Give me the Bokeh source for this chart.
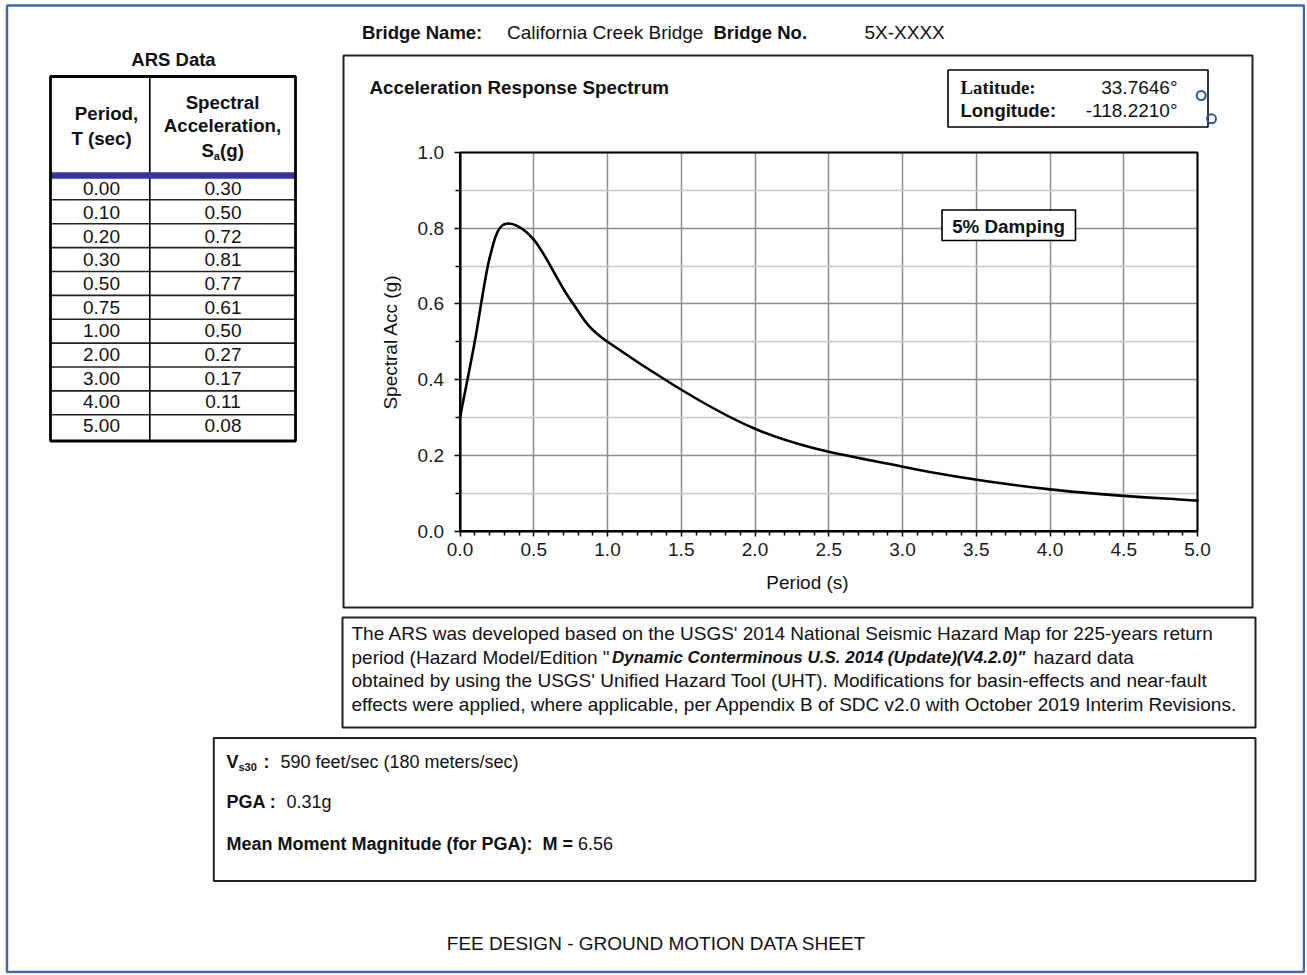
import math
from bokeh.plotting import figure
from bokeh.models import (Label, Range1d, FixedTicker, ColumnDataSource, LinearAxis, Grid)
from bokeh.embed import file_html
from bokeh.resources import INLINE

# ---------------- data ----------------
period = [0.00, 0.10, 0.20, 0.30, 0.50, 0.75, 1.00, 2.00, 3.00, 4.00, 5.00]
sa = [0.30, 0.50, 0.72, 0.81, 0.77, 0.61, 0.50, 0.27, 0.17, 0.11, 0.08]
period_labels = ["0.00", "0.10", "0.20", "0.30", "0.50", "0.75", "1.00", "2.00", "3.00", "4.00", "5.00"]
sa_labels = ["0.30", "0.50", "0.72", "0.81", "0.77", "0.61", "0.50", "0.27", "0.17", "0.11", "0.08"]
x_ticks = [0.0, 0.5, 1.0, 1.5, 2.0, 2.5, 3.0, 3.5, 4.0, 4.5, 5.0]
x_tick_labels = ["0.0", "0.5", "1.0", "1.5", "2.0", "2.5", "3.0", "3.5", "4.0", "4.5", "5.0"]
x_minor = [0.1, 0.2, 0.3, 0.4, 0.6, 0.7, 0.8, 0.9, 1.1, 1.2, 1.3, 1.4, 1.6, 1.7, 1.8, 1.9,
           2.1, 2.2, 2.3, 2.4, 2.6, 2.7, 2.8, 2.9, 3.1, 3.2, 3.3, 3.4, 3.6, 3.7, 3.8, 3.9,
           4.1, 4.2, 4.3, 4.4, 4.6, 4.7, 4.8, 4.9]
y_ticks = [0.0, 0.2, 0.4, 0.6, 0.8, 1.0]
y_tick_labels = ["0.0", "0.2", "0.4", "0.6", "0.8", "1.0"]
y_minor = [0.1, 0.3, 0.5, 0.7, 0.9]

SANS = "Liberation Sans"
SERIF = "Liberation Serif"
W, H = 1305, 973          # visible page area (page pixels)
L, B = 120, 120           # hidden side panels that hold the axes' layout slots

# chart plot area on the page (pixels)
FL, FR, FT, FB = 459.5, 1197.0, 152.0, 530.5
sx = (FR - FL) / (x_ticks[-1] - x_ticks[0])
sy = (FB - FT) / (y_ticks[-1] - y_ticks[0])

p = figure(frame_width=W, frame_height=H, output_backend="svg", toolbar_location=None,
           x_range=Range1d(0, W), y_range=Range1d(H, 0),
           x_axis_type=None, y_axis_type=None,
           min_border_left=L, min_border_bottom=B, min_border_top=0, min_border_right=0,
           background_fill_color="white", border_fill_color="white")
p.outline_line_color = None
p.margin = (0, 0, -B, -L)
p.extra_x_ranges = {"chart": Range1d((0 - FL) / sx, (W - FL) / sx)}
p.extra_y_ranges = {"chart": Range1d((FB - H) / sy, FB / sy)}

# ---------------- chart axes ----------------
xaxis = LinearAxis(x_range_name="chart", y_range_name="chart", fixed_location=0,
                   bounds=(x_ticks[0], x_ticks[-1]),
                   ticker=FixedTicker(ticks=x_ticks, minor_ticks=x_minor),
                   major_label_overrides=dict(zip(x_ticks, x_tick_labels)))
yaxis = LinearAxis(x_range_name="chart", y_range_name="chart", fixed_location=0,
                   bounds=(y_ticks[0], y_ticks[-1]),
                   ticker=FixedTicker(ticks=y_ticks, minor_ticks=y_minor),
                   major_label_overrides=dict(zip(y_ticks, y_tick_labels)))
for ax in (xaxis, yaxis):
    ax.axis_line_color = "black"
    ax.axis_line_width = 2
    ax.major_tick_line_color = "black"
    ax.minor_tick_line_color = "black"
    ax.major_tick_line_width = 1.5
    ax.minor_tick_line_width = 1.5
    ax.major_tick_in = 0
    ax.minor_tick_in = 0
    ax.major_label_text_font = SANS
    ax.major_label_text_font_size = "19px"
    ax.major_label_text_color = "#1a1a1a"
xaxis.major_tick_out = 5
xaxis.minor_tick_out = 4
yaxis.major_tick_out = 6
yaxis.minor_tick_out = 5
xaxis.major_label_standoff = 7
yaxis.major_label_standoff = 10

# grids
if "cross_bounds" in Grid.properties():
    xg = Grid(dimension=0, ticker=FixedTicker(ticks=x_ticks), x_range_name="chart",
              y_range_name="chart", bounds=(x_ticks[0], x_ticks[-1]),
              cross_bounds=(y_ticks[0], y_ticks[-1]),
              grid_line_color="#8c8c8c", grid_line_width=1.5)
    yg = Grid(dimension=1, ticker=FixedTicker(ticks=y_ticks, minor_ticks=y_minor),
              x_range_name="chart", y_range_name="chart", bounds=(y_ticks[0], y_ticks[-1]),
              cross_bounds=(x_ticks[0], x_ticks[-1]),
              grid_line_color="#8c8c8c", grid_line_width=1.5,
              minor_grid_line_color="#c8c8c8", minor_grid_line_width=1.5)
    p.add_layout(xg)
    p.add_layout(yg)
else:
    p.segment(x0=x_ticks, x1=x_ticks, y0=[y_ticks[0]] * len(x_ticks), y1=[y_ticks[-1]] * len(x_ticks),
              x_range_name="chart", y_range_name="chart", line_color="#8c8c8c", line_width=1.5,
              level="underlay")
    p.segment(x0=[x_ticks[0]] * len(y_minor), x1=[x_ticks[-1]] * len(y_minor), y0=y_minor, y1=y_minor,
              x_range_name="chart", y_range_name="chart", line_color="#c8c8c8", line_width=1.5,
              level="underlay")
    p.segment(x0=[x_ticks[0]] * len(y_ticks), x1=[x_ticks[-1]] * len(y_ticks), y0=y_ticks, y1=y_ticks,
              x_range_name="chart", y_range_name="chart", line_color="#8c8c8c", line_width=1.5,
              level="underlay")

p.add_layout(xaxis, "below")
p.add_layout(yaxis, "left")

# plot-area outline (top / right edges)
p.quad(left=[x_ticks[0]], right=[x_ticks[-1]], bottom=[y_ticks[0]], top=[y_ticks[-1]],
       x_range_name="chart", y_range_name="chart", fill_alpha=0, line_color="black", line_width=2)

# ---------------- helpers (page pixel coordinates) ----------------
def box(l, t, r, b, color="black", width=2.0, fill=None):
    p.quad(left=[l], right=[r], top=[t], bottom=[b],
           fill_color=fill if fill else "white", fill_alpha=1 if fill else 0,
           line_color=color, line_width=width)


def bar(l, t, r, b, color="black"):
    p.quad(left=[l], right=[r], top=[t], bottom=[b], fill_color=color, line_color=None)


def txt(text, x, y, size=19, style="normal", align="left", font=SANS, color="#111111", angle=0):
    p.add_layout(Label(x=x, y=y, text=text, text_font=font, text_font_size=f"{size}px",
                       text_font_style=style, text_align=align, text_baseline="middle",
                       text_color=color, angle=angle))


# page border
box(6.5, 5, 1303.5, 971.5, "#4169a3", 2.5)

# header line
txt("Bridge Name:", 361.5, 32, 18.5, "bold")
txt("California Creek Bridge", 506.5, 32, 19)
txt("Bridge No.", 713, 32, 18.5, "bold")
txt("5X-XXXX", 864, 32, 19)

# chart box
box(343, 55, 1252, 607, "#222222", 2)
txt("Acceleration Response Spectrum", 369, 87, 18.8, "bold")

# lat / lon box
box(947.5, 69.5, 1207.5, 126.5, "black", 1.6)
txt("Latitude:", 960, 87, 18.8, "bold", font=SERIF)
txt("Longitude:", 960, 110, 18.5, "bold")
txt("33.7646\u00b0", 1177, 87, 19, align="right")
txt("-118.2210\u00b0", 1177, 110, 19, align="right")
p.scatter(x=[1200.7, 1211], y=[95, 118.3], marker="circle", size=9, fill_alpha=0,
          line_color="#2f5597", line_width=2)

# 5% damping box
box(941.5, 209.5, 1075, 240, "black", 1.6, fill="white")
txt("5% Damping", 1008, 226, 18.8, "bold", align="center")

# axis titles
txt("Spectral Acc (g)", 390, 341.5, 19, align="center", angle=math.pi / 2)
txt("Period (s)", 807, 582, 19, align="center")


# smoothed response-spectrum curve through the data points
# (cubic Bezier segments with spreadsheet-style smoothing, arms computed in screen space)
def smooth_segments(xs, ys, kx, ky):
    P = [(x * kx, y * ky) for x, y in zip(xs, ys)]
    n = len(P)
    seg = dict(x0=[], y0=[], x1=[], y1=[], cx0=[], cy0=[], cx1=[], cy1=[])
    for i in range(n - 1):
        p0 = P[max(i - 1, 0)]
        p1, p2 = P[i], P[i + 1]
        p3 = P[min(i + 2, n - 1)]
        d12 = math.dist(p1, p2)
        d02 = math.dist(p0, p2)
        d13 = math.dist(p1, p3)
        f1 = f2 = 1 / 6
        if d02 > 0 and d02 / 6 >= d12 / 2:
            f1 = d12 / 2 / d02
        if d13 > 0 and d13 / 6 >= d12 / 2:
            f2 = d12 / 2 / d13
        c1 = (p1[0] + f1 * (p2[0] - p0[0]), p1[1] + f1 * (p2[1] - p0[1]))
        c2 = (p2[0] - f2 * (p3[0] - p1[0]), p2[1] - f2 * (p3[1] - p1[1]))
        seg["x0"].append(xs[i]); seg["y0"].append(ys[i])
        seg["x1"].append(xs[i + 1]); seg["y1"].append(ys[i + 1])
        seg["cx0"].append(c1[0] / kx); seg["cy0"].append(c1[1] / ky)
        seg["cx1"].append(c2[0] / kx); seg["cy1"].append(c2[1] / ky)
    return seg


p.bezier(x0="x0", y0="y0", x1="x1", y1="y1", cx0="cx0", cy0="cy0", cx1="cx1", cy1="cy1",
         source=ColumnDataSource(smooth_segments(period, sa, sx, sy)),
         x_range_name="chart", y_range_name="chart",
         line_color="black", line_width=2.6, line_cap="round")

# ---------------- ARS data table ----------------
txt("ARS Data", 173, 59, 18.5, "bold", align="center")
TL, TR, TT, TB, TC = 50, 295, 76, 440.5, 149.3
bar(TC - 0.8, TT, TC + 0.8, TB)
bar(TL, 171.8, TR, 178.3, "#34349a")
for k in range(len(period) - 1):
    yl = 199.3 + 23.89 * k
    bar(TL, yl - 0.8, TR, yl + 0.8, "#222222")
box(TL, TT, TR, TB, "black", 2.8)
txt("Period,", 106, 113, 18.7, "bold", align="center")
txt("T (sec)", 101, 138, 18.7, "bold", align="center")
txt("Spectral", 222, 101.5, 18.7, "bold", align="center")
txt("Acceleration,", 222, 125, 18.7, "bold", align="center")
txt("S", 201, 150, 18.7, "bold")
txt("a", 213.3, 155.5, 11, "bold")
txt("(g)", 219.5, 150, 18.7, "bold")
for i in range(len(period)):
    yc = 188.3 + 23.67 * i
    txt(period_labels[i], 101, yc, 19, align="center")
    txt(sa_labels[i], 222.5, yc, 19, align="center")

# ---------------- description box ----------------
box(342, 617, 1255, 727, "#222222", 2)
DS = 19
txt("The ARS was developed based on the USGS' 2014 National Seismic Hazard Map for 225-years return",
    351, 633, DS)
txt("period (Hazard Model/Edition \"", 351, 657, DS)
txt("Dynamic Conterminous U.S. 2014 (Update)(V4.2.0)\"", 611.5, 657, 17, "bold italic")
txt("hazard data", 1033, 657, DS)
txt("obtained by using the USGS' Unified Hazard Tool (UHT). Modifications for basin-effects and near-fault",
    351, 680, DS)
txt("effects were applied, where applicable, per Appendix B of SDC v2.0 with October 2019 Interim Revisions.",
    351, 704, DS)

# ---------------- site data box ----------------
box(213.3, 737.5, 1255, 880.5, "#222222", 2)
txt("V", 226, 761.5, 18, "bold")
txt("s30", 238, 766, 11, "bold")
txt(":", 263, 761.5, 18, "bold")
txt("590 feet/sec (180 meters/sec)", 280, 761.5, 18)
txt("PGA :", 226, 801.5, 18, "bold")
txt("0.31g", 286, 801.5, 18)
txt("Mean Moment Magnitude (for PGA):\u00a0 M =", 226, 843, 18, "bold")
txt("6.56", 577.5, 843, 18)

# footer
txt("FEE DESIGN - GROUND MOTION DATA SHEET", 656, 943, 19, align="center")

open("out.html", "w").write(file_html(p, INLINE))
